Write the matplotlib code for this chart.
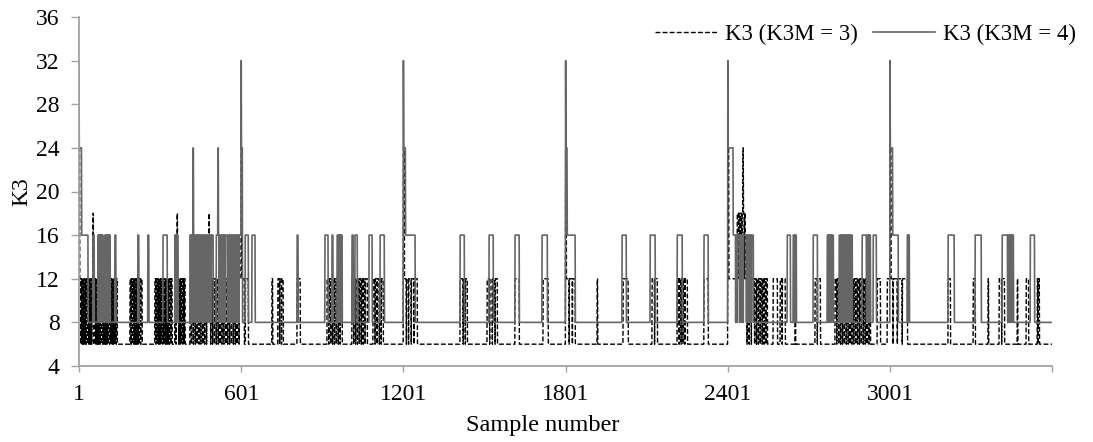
import numpy as np
import matplotlib.pyplot as plt

plt.rcParams['font.family'] = ['Liberation Serif', 'DejaVu Serif']
plt.rcParams['font.size'] = 17

# ---- data ----
n_samples = 3600
sample_ticks = [1, 601, 1201, 1801, 2401, 3001]
k3_ticks = [4, 8, 12, 16, 20, 24, 28, 32, 36]

# K3 (K3M = 4): resting level, runs above it (first, last, value),
# and single samples that fall back to rest inside a run
k3m4_base = 8
k3m4_runs = [
    (1, 1, 32), (2, 10, 24), (11, 34, 16), (53, 57, 16), (71, 89, 16),
    (97, 116, 16), (134, 137, 16), (219, 222, 16), (256, 259, 16),
    (312, 327, 16), (356, 367, 16), (412, 497, 16), (423, 424, 24),
    (509, 549, 16), (515, 516, 24), (553, 600, 16), (601, 601, 32),
    (602, 605, 24), (616, 627, 16), (641, 652, 16), (808, 811, 16),
    (911, 922, 16), (937, 940, 16), (956, 974, 16), (1011, 1015, 16),
    (1022, 1030, 16), (1074, 1085, 16), (1115, 1130, 16),
    (1201, 1201, 32), (1202, 1208, 24), (1209, 1244, 16),
    (1411, 1426, 16), (1518, 1533, 16), (1614, 1629, 16), (1714, 1733, 16),
    (1801, 1801, 32), (1802, 1806, 24), (1807, 1836, 16),
    (2010, 2025, 16), (2114, 2132, 16), (2214, 2232, 16), (2313, 2328, 16),
    (2401, 2401, 32), (2402, 2420, 24), (2421, 2495, 16),
    (2621, 2632, 16), (2643, 2654, 16), (2717, 2732, 16), (2769, 2791, 16),
    (2813, 2861, 16), (2898, 2913, 16), (2917, 2928, 16), (2939, 2950, 16),
    (3001, 3001, 32), (3002, 3010, 24), (3011, 3031, 16), (3065, 3072, 16),
    (3216, 3238, 16), (3316, 3338, 16), (3416, 3435, 16), (3438, 3457, 16),
    (3520, 3535, 16),
]
k3m4_dips = [
    74, 79, 83, 87, 100, 104, 109, 113, 359, 363,
    415, 420, 428, 435, 441, 447, 455, 462, 468, 476, 483, 490,
    520, 527, 534, 541, 558, 565, 572, 579, 586, 593,
    961, 966, 970,
    2430, 2436, 2445, 2452, 2458, 2470, 2476, 2482, 2488,
    2648, 2774, 2779, 2785, 2818, 2824, 2830, 2836, 2842, 2848, 2855,
    2921, 2925, 3068, 3442, 3447, 3452,
]

# K3 (K3M = 3)
k3m3_base = 6
k3m3_runs = [
    (1, 3, 24), (4, 52, 12), (53, 54, 18), (60, 142, 12), (190, 234, 12),
    (282, 345, 12), (356, 393, 12), (364, 365, 18), (412, 600, 12),
    (482, 483, 18), (601, 602, 24), (603, 612, 12), (617, 627, 12),
    (715, 717, 12), (737, 756, 12), (808, 819, 12), (919, 974, 12),
    (1011, 1067, 12), (1089, 1126, 12),
    (1201, 1204, 24), (1205, 1252, 12), (1411, 1437, 12), (1511, 1548, 12),
    (1614, 1629, 12), (1718, 1736, 12),
    (1801, 1803, 24), (1804, 1836, 12), (1918, 1919, 12),
    (2014, 2032, 12), (2121, 2140, 12), (2214, 2251, 12), (2313, 2328, 12),
    (2401, 2404, 24), (2405, 2435, 12), (2436, 2465, 18), (2441, 2441, 12),
    (2447, 2447, 12), (2453, 2453, 12), (2457, 2458, 24),
    (2462, 2462, 12), (2466, 2547, 12), (2569, 2584, 12), (2595, 2613, 12),
    (2650, 2651, 12), (2724, 2743, 12), (2798, 2928, 12), (2954, 2965, 12),
    (2991, 3000, 12), (3001, 3004, 24), (3005, 3065, 12),
    (3216, 3224, 12), (3309, 3316, 12), (3364, 3365, 12), (3405, 3424, 12),
    (3472, 3473, 12), (3505, 3513, 12), (3546, 3553, 12),
]
k3m3_dips = [
    8, 13, 18, 23, 28, 33, 38, 43, 48,
    64, 69, 74, 79, 84, 89, 94, 99, 104, 109, 114, 119, 124, 129, 134, 139,
    194, 199, 204, 209, 214, 219, 224, 229,
    286, 291, 296, 301, 306, 311, 316, 321, 326, 331, 336, 341,
    360, 370, 375, 380, 385, 390,
    417, 424, 431, 438, 445, 452, 459, 466, 473, 488, 495, 502, 509,
    516, 523, 530, 537, 544, 551, 558, 565, 572, 579, 586, 593,
    743, 750, 925, 932, 939, 946, 953, 960, 967,
    1017, 1024, 1031, 1038, 1045, 1052, 1059,
    1096, 1104, 1112, 1119, 1212, 1220, 1230, 1240,
    1422, 1430, 1520, 1530, 1540, 1814, 1826, 2130,
    2221, 2228, 2235, 2242,
    2472, 2480, 2488, 2500, 2507, 2514, 2521, 2528, 2535, 2542,
    2602, 2732,
    2804, 2811, 2818, 2825, 2832, 2839, 2846, 2853, 2860, 2867, 2874,
    2881, 2888, 2895, 2902, 2909, 2916, 2923, 3012, 3028, 3046,
    3414, 3549,
]


def build(base, runs, dips):
    y = np.full(n_samples, base, dtype=float)
    for first, last, value in runs:
        y[first - 1:last] = value
    for d in dips:
        y[d - 1] = base
    return y


samples = np.arange(1, n_samples + 1)
k3m3 = build(k3m3_base, k3m3_runs, k3m3_dips)
k3m4 = build(k3m4_base, k3m4_runs, k3m4_dips)

axis_grey = '#a3a3a3'

fig = plt.figure(figsize=(10.93, 4.42), dpi=100)
ax = fig.add_axes([79 / 1093, 1 - 366 / 442, 973 / 1093, 349 / 442])

ax.plot(samples, k3m3, color='black', lw=1.0, ls=(0, (3.5, 1.6)),
        label='K3 (K3M = 3)')
ax.plot(samples, k3m4, color='#666666', lw=1.2, label='K3 (K3M = 4)')

ax.set_xlim(1, n_samples)
ax.set_ylim(4, 36)
ax.set_yticks(k3_ticks)
ax.set_xticks(sample_ticks + [n_samples])
ax.set_xticklabels([str(t) for t in sample_ticks] + [''])

for side in ['top', 'right']:
    ax.spines[side].set_visible(False)
for side in ['left', 'bottom']:
    ax.spines[side].set_color(axis_grey)
    ax.spines[side].set_linewidth(1.3)

ax.tick_params(axis='x', direction='out', length=4, width=1, color=axis_grey, pad=9)
ax.tick_params(axis='y', direction='out', length=6, width=1, color=axis_grey, pad=8)

ax.set_ylabel('K3')
ax.yaxis.set_label_coords(-0.048, 0.5)
ax.set_xlabel('Sample number', fontsize=17.5)
ax.xaxis.set_label_coords(0.477, -0.14)

ax.legend(loc='center right', bbox_to_anchor=(1087 / 1093, 1 - 34 / 442),
          bbox_transform=fig.transFigure, ncol=2, frameon=False, borderpad=0,
          fontsize=16.5, handlelength=2.7, handletextpad=0.35,
          columnspacing=0.65)

fig.savefig('out.png', dpi=100)
